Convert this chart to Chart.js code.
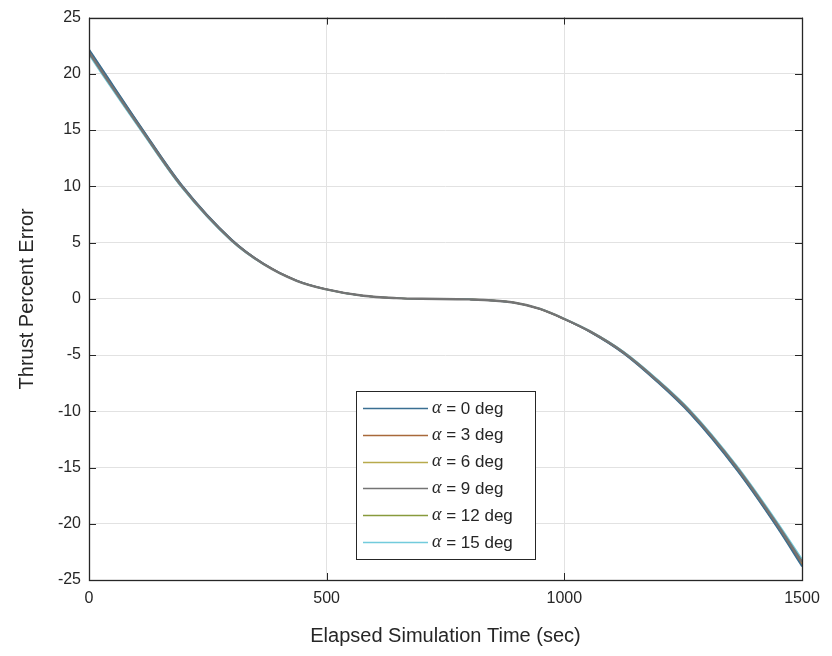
<!DOCTYPE html>
<html>
<head>
<meta charset="utf-8">
<script src="https://cdn.jsdelivr.net/npm/chart.js@4/dist/chart.umd.min.js"></script>
<style>
html,body{margin:0;padding:0;background:#fff;}
#wrap{position:relative;width:832px;height:656px;}
</style>
</head>
<body>
<div id="wrap"><canvas id="c" width="832" height="656"></canvas></div>
<script>
// ---- data ----
const times = [0, 30, 111, 195, 300, 367, 437, 497, 577, 647, 700, 800, 893, 949, 998, 1054, 1124, 1194, 1264, 1363, 1447, 1500];
const seriesLabels = ['α = 0 deg', 'α = 3 deg', 'α = 6 deg', 'α = 9 deg', 'α = 12 deg', 'α = 15 deg'];
const alpha0  = [22.2, 20.3, 15.2, 10.15, 5.3, 3.15, 1.63, 0.87, 0.27, 0.06, 0.0, -0.05, -0.34, -0.92, -1.78, -2.95, -4.85, -7.35, -10.2, -15.25, -20.3, -23.8];
const alpha3  = [22.1, 20.2, 15.15, 10.1, 5.27, 3.13, 1.62, 0.87, 0.27, 0.06, 0.0, -0.05, -0.33, -0.91, -1.77, -2.93, -4.81, -7.3, -10.13, -15.17, -20.2, -23.65];
const alpha6  = [22.0, 20.1, 15.08, 10.05, 5.23, 3.11, 1.61, 0.86, 0.27, 0.06, 0.0, -0.05, -0.33, -0.9, -1.76, -2.91, -4.78, -7.25, -10.07, -15.1, -20.1, -23.5];
const alpha9  = [21.9, 20.0, 15.0, 10.0, 5.2, 3.1, 1.6, 0.86, 0.27, 0.06, 0.0, -0.05, -0.33, -0.9, -1.75, -2.9, -4.75, -7.2, -10.0, -15.0, -20.0, -23.4];
const alpha12 = [21.8, 19.9, 14.93, 9.95, 5.17, 3.08, 1.59, 0.85, 0.26, 0.06, 0.0, -0.05, -0.32, -0.89, -1.74, -2.88, -4.71, -7.15, -9.93, -14.92, -19.9, -23.27];
const alpha15 = [21.7, 19.8, 14.85, 9.9, 5.13, 3.06, 1.58, 0.85, 0.26, 0.06, 0.0, -0.05, -0.32, -0.88, -1.73, -2.86, -4.68, -7.1, -9.87, -14.85, -19.8, -23.15];
const xTicks = [0, 500, 1000, 1500];
const yTicks = [-25, -20, -15, -10, -5, 0, 5, 10, 15, 20, 25];

const allSeries = [alpha0, alpha3, alpha6, alpha9, alpha12, alpha15];
const colors = ['#3a6f92', '#a8693a', '#b8aa4c', '#747474', '#889a3c', '#72cbdc'];
const widths = [1.5, 1.5, 1.5, 2.4, 1.5, 1.5];
const orders = [2, 2, 2, 0, 2, 1];

const datasets = allSeries.map((s, i) => ({
  label: seriesLabels[i],
  data: s.map((v, j) => ({x: times[j], y: v})),
  borderColor: colors[i],
  backgroundColor: colors[i],
  borderWidth: widths[i],
  pointRadius: 0,
  cubicInterpolationMode: 'monotone',
  fill: false,
  order: orders[i]
}));

const AX = '#262626';
const FONT = '"Liberation Sans", Arial, sans-serif';

const boxPlugin = {
  id: 'boxPlugin',
  afterDatasetsDraw(chart) {
    const {ctx, chartArea: a, scales} = chart;
    ctx.save();
    ctx.strokeStyle = AX;
    ctx.lineWidth = 1;
    const L = 7;
    ctx.beginPath();
    xTicks.forEach(v => {
      const px = Math.round(scales.x.getPixelForValue(v)) + 0.5;
      ctx.moveTo(px, a.bottom); ctx.lineTo(px, a.bottom - L);
      ctx.moveTo(px, a.top); ctx.lineTo(px, a.top + L);
    });
    yTicks.forEach(v => {
      const py = Math.round(scales.y.getPixelForValue(v)) + 0.5;
      ctx.moveTo(a.left, py); ctx.lineTo(a.left + L, py);
      ctx.moveTo(a.right, py); ctx.lineTo(a.right - L, py);
    });
    ctx.stroke();
    ctx.lineWidth = 1.3;
    ctx.strokeRect(Math.round(a.left) + 0.5, Math.round(a.top) + 0.5, Math.round(a.right - a.left), Math.round(a.bottom - a.top));

    // legend
    const bx = 356, by = 391, bw = 179, bh = 168;
    ctx.fillStyle = '#fff';
    ctx.fillRect(bx, by, bw, bh);
    ctx.lineWidth = 1;
    ctx.strokeStyle = AX;
    ctx.strokeRect(bx + 0.5, by + 0.5, bw, bh);
    const rowH = 26.8;
    chart.data.datasets.forEach((ds, i) => {
      const y = by + 17 + i * rowH;
      ctx.strokeStyle = ds.borderColor;
      ctx.lineWidth = 1.5;
      ctx.beginPath();
      ctx.moveTo(363, Math.round(y) + 0.5);
      ctx.lineTo(428, Math.round(y) + 0.5);
      ctx.stroke();
      const lbl = ds.label;
      ctx.fillStyle = AX;
      ctx.textBaseline = 'middle';
      ctx.textAlign = 'left';
      ctx.font = 'italic 18px "Liberation Serif", "Times New Roman", serif';
      const g = lbl.charAt(0);
      ctx.fillText(g, 432, y);
      const gw = ctx.measureText(g).width;
      ctx.font = '17px ' + FONT;
      ctx.fillText(lbl.slice(1), 432 + gw, y + 1);
    });
    ctx.restore();
  }
};

new Chart(document.getElementById('c'), {
  type: 'line',
  data: {datasets},
  options: {
    responsive: false,
    animation: false,
    layout: {padding: {left: 0, top: 16, right: 30, bottom: 0}},
    plugins: {legend: {display: false}, tooltip: {enabled: false}},
    scales: {
      x: {
        type: 'linear', min: 0, max: 1500,
        afterBuildTicks(s) { s.ticks = xTicks.map(v => ({value: v})); },
        afterFit(s) { s.height = 76; },
        grid: {color: '#e2e2e2', drawTicks: false, lineWidth: 1},
        border: {display: false},
        ticks: {color: AX, font: {family: FONT, size: 16}, padding: 9, maxRotation: 0, callback: v => String(v)},
        title: {display: true, text: 'Elapsed Simulation Time (sec)', color: AX, font: {family: FONT, size: 20}, padding: {top: 8, bottom: 8}}
      },
      y: {
        type: 'linear', min: -25, max: 25,
        afterBuildTicks(s) { s.ticks = yTicks.map(v => ({value: v})); },
        afterFit(s) { s.width = 89; },
        grid: {color: '#e2e2e2', drawTicks: false, lineWidth: 1},
        border: {display: false},
        ticks: {color: AX, font: {family: FONT, size: 16}, padding: 8, callback: v => String(v)},
        title: {display: true, text: 'Thrust Percent Error', color: AX, font: {family: FONT, size: 20}, padding: {top: 15, bottom: 0}}
      }
    }
  },
  plugins: [boxPlugin]
});
</script>
</body>
</html>
